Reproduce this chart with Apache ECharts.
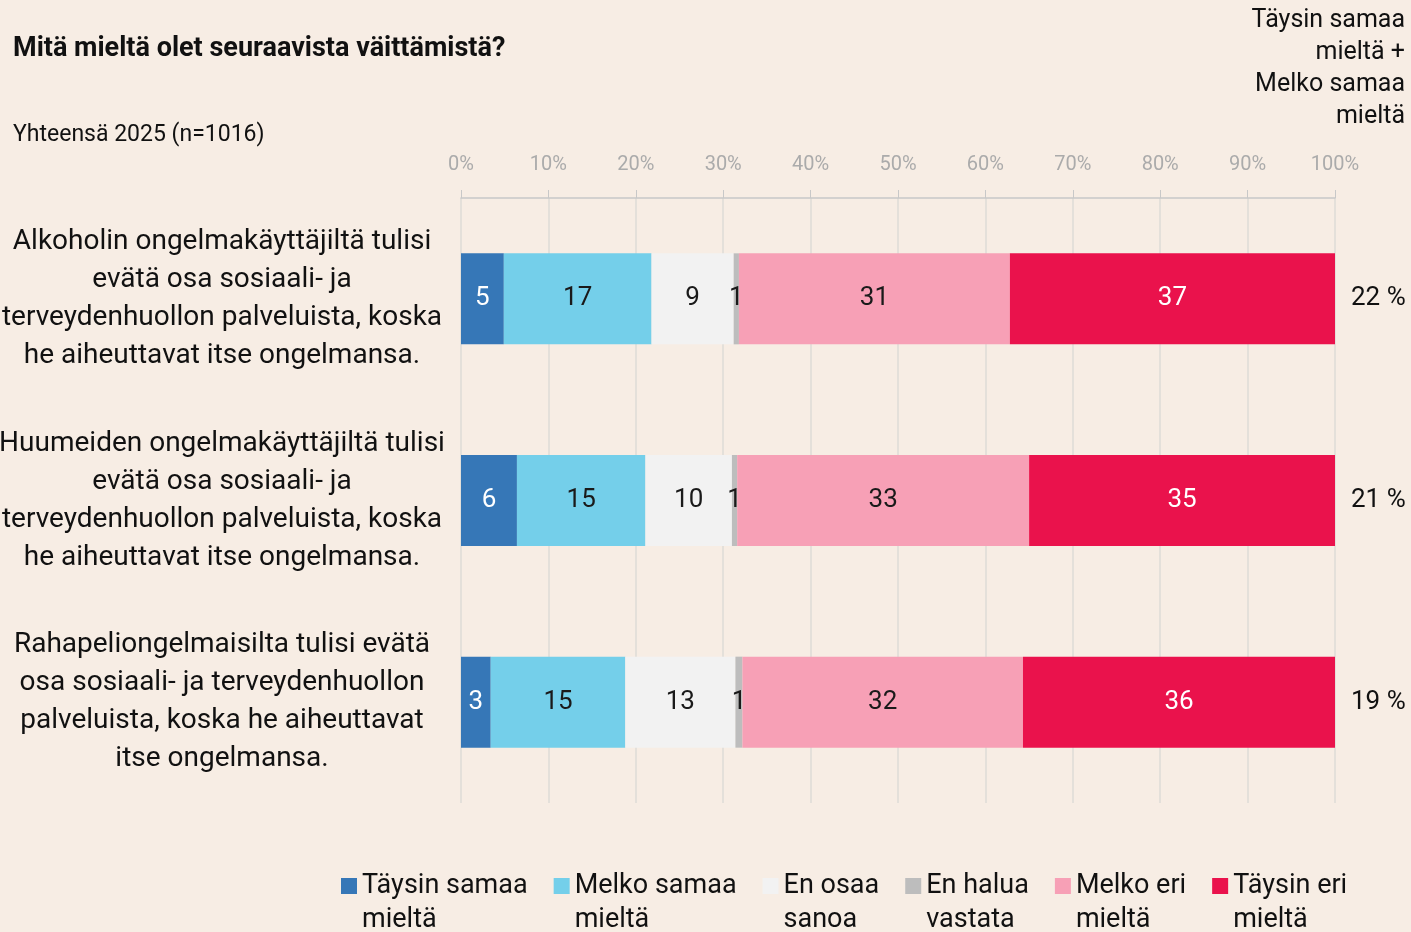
<!DOCTYPE html>
<html>
<head>
<meta charset="utf-8">
<script src="https://cdn.jsdelivr.net/npm/echarts@6/dist/echarts.min.js"></script>
<style>
	html, body { margin: 0; padding: 0; background: #f7ede4; }
	#chart { width: 1411px; height: 932px; }
</style>
</head>
<body>
<div id="chart"></div>
<script>
const categories = [
	"Alkoholin ongelmakäyttäjiltä tulisi\nevätä osa sosiaali- ja\nterveydenhuollon palveluista, koska\nhe aiheuttavat itse ongelmansa.",
	"Huumeiden ongelmakäyttäjiltä tulisi\nevätä osa sosiaali- ja\nterveydenhuollon palveluista, koska\nhe aiheuttavat itse ongelmansa.",
	"Rahapeliongelmaisilta tulisi evätä\nosa sosiaali- ja terveydenhuollon\npalveluista, koska he aiheuttavat\nitse ongelmansa."
];
const seriesNames = ["Täysin samaa mieltä", "Melko samaa mieltä", "En osaa sanoa", "En halua vastata", "Melko eri mieltä", "Täysin eri mieltä"];
const taysinSamaa = [4.9, 6.4, 3.4];
const melkoSamaa = [16.9, 14.7, 15.4];
const enOsaa = [9.4, 9.9, 12.6];
const enHalua = [0.6, 0.6, 0.8];
const melkoEri = [31.0, 33.4, 32.1];
const taysinEri = [37.2, 35.0, 35.7];

const colors = ["#3677b7", "#74cfea", "#f2f2f2", "#bdbdbd", "#f7a0b6", "#ea124c"];
const labelColors = ["#ffffff", "#1a1a1a", "#1a1a1a", "#1a1a1a", "#1a1a1a", "#ffffff"];
const font = "Roboto, 'DejaVu Sans Condensed', sans-serif";

// samaa mieltä yhteensä, oikean reunan luvut
var totals = taysinSamaa.map(function (v, i) {
	return Math.round(v + melkoSamaa[i]) + " %";
});

var allValues = [taysinSamaa, melkoSamaa, enOsaa, enHalua, melkoEri, taysinEri];
var series = seriesNames.map(function (name, i) {
	return {
		name: name,
		type: 'bar',
		stack: 'total',
		barWidth: 91,
		data: allValues[i],
		itemStyle: { color: colors[i] },
		label: {
			show: true,
			position: 'inside',
			color: labelColors[i],
			fontFamily: font,
			fontSize: 26,
			formatter: function (p) { return Math.round(p.value); }
		}
	};
});

var myChart = echarts.init(document.getElementById("chart"));
var option = {
	backgroundColor: '#f7ede4',
	animation: false,
	title: [
		{
			text: 'Mitä mieltä olet seuraavista väittämistä?',
			left: 8, top: 31,
			textStyle: { fontFamily: font, fontSize: 27, fontWeight: 'bold', color: '#111' }
		},
		{
			text: 'Yhteensä 2025 (n=1016)',
			left: 8, top: 119,
			textStyle: { fontFamily: font, fontSize: 23, fontWeight: 'normal', color: '#111' }
		},
		{
			text: 'Täysin samaa\nmieltä +\nMelko samaa\nmieltä',
			left: 1400, top: 0,
			textAlign: 'right',
			textStyle: { fontFamily: font, fontSize: 25, lineHeight: 32, fontWeight: 'normal', color: '#111' }
		}
	],
	legend: {
		left: 336,
		top: 830,
		itemWidth: 16,
		itemHeight: 16,
		itemGap: 26,
		icon: 'rect',
		data: seriesNames,
		formatter: function (name) {
			var k = name.lastIndexOf(' ');
			return '\n' + name.slice(0, k) + '\n' + name.slice(k + 1);
		},
		textStyle: { fontFamily: font, fontSize: 27, lineHeight: 34, color: '#111' }
	},
	grid: { left: 461, right: 76, top: 198, bottom: 129, containLabel: false, outerBoundsMode: 'none' },
	xAxis: {
		type: 'value',
		position: 'top',
		min: 0,
		max: 100,
		interval: 10,
		axisLine: { show: true, lineStyle: { color: '#c8c8c8', width: 1.5 } },
		axisTick: { show: true, length: 8, lineStyle: { color: '#c8c8c8' } },
		splitLine: { show: true, lineStyle: { color: '#dedbd7', width: 1.5 } },
		axisLabel: { formatter: '{value}%', color: '#ababab', fontFamily: font, fontSize: 20, margin: 23 }
	},
	yAxis: [
		{
			type: 'category',
			inverse: true,
			data: categories,
			axisLine: { show: false },
			axisTick: { show: false },
			axisLabel: { align: 'center', margin: 239, color: '#111', fontFamily: font, fontSize: 28, lineHeight: 38 }
		},
		{
			type: 'category',
			inverse: true,
			position: 'right',
			data: totals,
			axisLine: { show: false },
			axisTick: { show: false },
			axisLabel: { align: 'left', margin: 16, color: '#111', fontFamily: font, fontSize: 26 }
		}
	],
	series: series
};
option && myChart.setOption(option);
</script>
</body>
</html>
